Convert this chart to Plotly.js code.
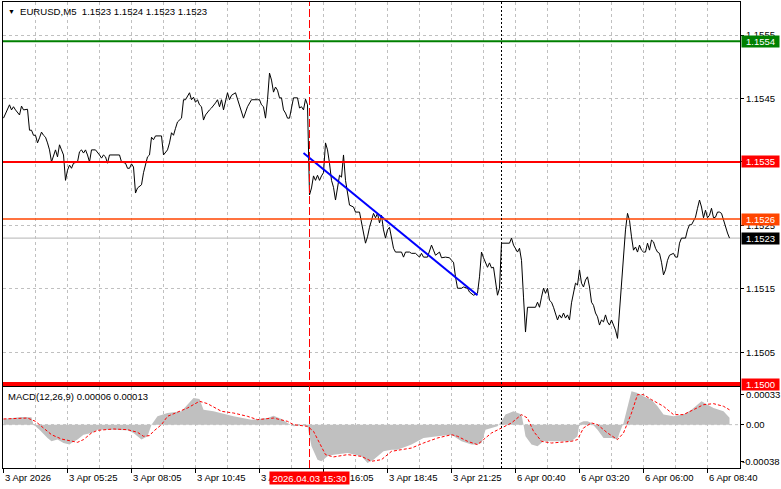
<!DOCTYPE html>
<html><head><meta charset="utf-8">
<script src="https://cdn.plot.ly/plotly-3.0.1.min.js"></script>
<style>html,body{margin:0;padding:0;background:#fff}#chart{width:781px;height:489px}</style>
</head><body><div id="chart"></div>
<script>
// ---- price series (EURUSD M5 close), bar index from left edge ----
const priceBars = [0,3,4,5,6,8,9,10,12,13,14,15,16,17,18,19,20,21,22,23,24,25,26,27,28,29,30,31,32,33,34,35,37,38,39,40,41,42,43,44,46,48,49,50,51,52,53,58,59,61,62,63,64,65,66,67,69,70,72,73,74,75,76,79,80,82,83,84,85,86,87,89,90,91,93,94,95,96,97,98,99,100,101,103,104,106,107,108,109,110,111,112,113,114,116,117,118,119,120,122,123,124,127,128,129,130,131,132,133,134,135,136,137,138,139,140,141,142,143,144,145,147,148,149,150,151,152,153,154,155,156,157,158,159,160,161,162,163,164,165,166,167,168,169,170,171,172,173,175,176,178,179,180,181,182,183,185,186,187,188,189,190,191,192,193,194,195,196,199,200,201,203,204,206,208,209,210,212,213,214,215,216,218,219,221,223,224,225,226,227,229,230,232,233,235,237,238,239,240,242,243,244,245,246,247,248,249,253,254,255,257,258,259,260,261,262,266,267,268,269,270,271,272,273,274,275,276,277,278,279,280,281,282,283,284,285,286,287,288,289,290,291,292,293,294,295,296,297,298,299,300,301,302,303,304,305,306,307,308,309,310,311,312,313,314,315,316,317,318,319,320,321,322,323,324,325,326,327,328,329,330,331,332,333,335,336,337,338,339,341,342,343,344,346,347,348,349,350,351,352,353,354,355,356,357,358,359,360,361,362,363];
const priceClose = [1.15419,1.15440,1.15432,1.15437,1.15432,1.15424,1.15438,1.15432,1.15433,1.15400,1.15400,1.15392,1.15392,1.15380,1.15388,1.15397,1.15392,1.15389,1.15380,1.15369,1.15350,1.15361,1.15369,1.15358,1.15377,1.15369,1.15361,1.15321,1.15337,1.15345,1.15340,1.15348,1.15350,1.15366,1.15369,1.15364,1.15369,1.15361,1.15350,1.15369,1.15369,1.15361,1.15356,1.15361,1.15358,1.15348,1.15361,1.15361,1.15350,1.15348,1.15340,1.15340,1.15347,1.15342,1.15301,1.15309,1.15314,1.15333,1.15358,1.15361,1.15389,1.15385,1.15391,1.15391,1.15361,1.15369,1.15380,1.15396,1.15392,1.15403,1.15413,1.15419,1.15448,1.15448,1.15459,1.15448,1.15452,1.15444,1.15448,1.15440,1.15437,1.15416,1.15424,1.15432,1.15435,1.15443,1.15448,1.15437,1.15448,1.15432,1.15448,1.15459,1.15448,1.15455,1.15459,1.15448,1.15437,1.15427,1.15419,1.15437,1.15443,1.15448,1.15448,1.15448,1.15440,1.15437,1.15419,1.15448,1.15490,1.15479,1.15460,1.15468,1.15463,1.15451,1.15451,1.15432,1.15427,1.15419,1.15419,1.15437,1.15451,1.15451,1.15435,1.15437,1.15432,1.15449,1.15440,1.15298,1.15309,1.15328,1.15321,1.15329,1.15321,1.15328,1.15333,1.15380,1.15369,1.15348,1.15321,1.15310,1.15290,1.15309,1.15329,1.15326,1.15361,1.15321,1.15303,1.15282,1.15279,1.15271,1.15271,1.15254,1.15243,1.15222,1.15232,1.15247,1.15269,1.15262,1.15269,1.15254,1.15266,1.15243,1.15230,1.15243,1.15247,1.15232,1.15214,1.15208,1.15208,1.15200,1.15208,1.15208,1.15206,1.15206,1.15200,1.15206,1.15200,1.15200,1.15208,1.15219,1.15211,1.15203,1.15208,1.15199,1.15200,1.15199,1.15195,1.15192,1.15169,1.15151,1.15151,1.15153,1.15151,1.15145,1.15140,1.15143,1.15169,1.15208,1.15199,1.15184,1.15191,1.15183,1.15184,1.15164,1.15140,1.15151,1.15222,1.15222,1.15230,1.15219,1.15208,1.15214,1.15195,1.15137,1.15082,1.15121,1.15121,1.15129,1.15121,1.15137,1.15151,1.15143,1.15151,1.15132,1.15129,1.15121,1.15109,1.15101,1.15109,1.15104,1.15112,1.15104,1.15109,1.15101,1.15128,1.15143,1.15159,1.15156,1.15180,1.15159,1.15153,1.15164,1.15169,1.15153,1.15129,1.15124,1.15112,1.15106,1.15093,1.15101,1.15098,1.15109,1.15098,1.15093,1.15101,1.15093,1.15085,1.15072,1.15113,1.15169,1.15195,1.15243,1.15269,1.15258,1.15232,1.15211,1.15216,1.15208,1.15219,1.15211,1.15208,1.15208,1.15222,1.15211,1.15227,1.15224,1.15214,1.15208,1.15206,1.15192,1.15172,1.15180,1.15195,1.15203,1.15206,1.15200,1.15200,1.15222,1.15230,1.15230,1.15243,1.15251,1.15251,1.15263,1.15277,1.15290,1.15279,1.15262,1.15274,1.15262,1.15266,1.15277,1.15262,1.15263,1.15271,1.15271,1.15269,1.15258,1.15247,1.15238,1.15230];

// ---- MACD(12,26,9) ----
const histBars = [0,9,14,15,16,18,22,24,27,30,33,34,37,40,44,47,54,62,65,69,72,74,77,82,89,92,95,98,100,105,115,124,132,135,139,142,145,149,152,154,157,159,162,165,172,179,182,185,190,194,197,204,210,217,224,229,234,237,239,241,244,247,249,251,255,259,260,261,264,267,270,277,284,287,288,290,292,294,297,300,304,307,308,310,312,314,317,320,324,327,330,335,340,344,349,352,355,360,363];
const histValues = [0.000050,0.000067,0.000064,0,-0.000015,-0.000044,-0.000117,-0.000146,-0.000131,-0.000161,-0.000175,-0.000161,-0.000131,-0.000088,-0.000073,-0.000044,-0.000044,-0.000050,-0.000073,-0.000131,-0.000102,0,0.000073,0.000102,0.000117,0.000175,0.000234,0.000225,0.000131,0.000117,0.000073,0.000044,0.000058,0.000079,0.000050,0.000015,-0.000015,-0.000005,-0.000015,-0.000190,-0.000307,-0.000321,-0.000278,-0.000263,-0.000248,-0.000278,-0.000336,-0.000307,-0.000234,-0.000219,-0.000219,-0.000175,-0.000117,-0.000102,-0.000088,-0.000146,-0.000175,-0.000175,-0.000161,-0.000044,-0.000029,-0.000015,0.000029,0.000088,0.000117,0.000088,0,-0.000102,-0.000175,-0.000190,-0.000146,-0.000146,-0.000146,-0.000102,0.000015,0.000029,0.000029,0.000015,-0.000044,-0.000117,-0.000117,-0.000131,-0.000073,0.000015,0.000161,0.000292,0.000278,0.000248,0.000219,0.000161,0.000088,0.000073,0.000088,0.000131,0.000205,0.000175,0.000146,0.000117,0.000060];
const signalBars = [0,12,16,19,24,29,34,37,40,44,47,55,62,67,70,73,75,79,82,92,98,102,109,115,122,127,135,142,145,152,155,159,161,165,172,179,184,189,194,199,204,210,217,224,227,232,237,240,244,249,254,259,262,265,269,274,284,287,290,294,297,302,307,310,314,317,320,324,330,335,340,345,350,355,360,363];
const signalValues = [0.000050,0.000058,0.000029,-0.000015,-0.000088,-0.000126,-0.000146,-0.000155,-0.000131,-0.000073,-0.000050,-0.000038,-0.000044,-0.000067,-0.000102,-0.000096,-0.000058,0,0.000073,0.000146,0.000205,0.000184,0.000117,0.000102,0.000073,0.000044,0.000058,0.000029,0,-0.000015,-0.000058,-0.000190,-0.000263,-0.000283,-0.000263,-0.000278,-0.000321,-0.000307,-0.000234,-0.000219,-0.000205,-0.000161,-0.000117,-0.000088,-0.000102,-0.000146,-0.000175,-0.000131,-0.000073,-0.000029,0.000015,0.000088,0.000058,-0.000058,-0.000146,-0.000161,-0.000146,-0.000131,-0.000029,0.000015,0,-0.000073,-0.000131,-0.000073,0.000102,0.000263,0.000263,0.000219,0.000161,0.000088,0.000088,0.000131,0.000175,0.000184,0.000161,0.000130];
const macdLast = ['0.00006','0.00013'];

// ---- drawn objects ----
const trendBars = [150, 237];
const trendPrices = [1.15364, 1.15140];
const levelPrices = [1.1554, 1.1535, 1.1500];
const levelLabels = ['1.1554', '1.1535', '1.1500'];
const alertPrice = 1.1526, alertLabel = '1.1526';
const bidPrice = 1.1523, bidLabel = '1.1523';
const eventBar = 153, eventLabel = '2026.04.03 15:30';
const weekSepBar = 249;
const ohlc = ['1.1523','1.1524','1.1523','1.1523'];
const symbolLabel = 'EURUSD,M5';

// ---- axes ticks ----
const xTickBars = [0,32,64,96,128,160,192,224,256,288,320,352];
const xTickLabels = ['3 Apr 2026','3 Apr 05:25','3 Apr 08:05','3 Apr 10:45','3 Apr 13:25','3 Apr 16:05','3 Apr 18:45','3 Apr 21:25','6 Apr 00:40','6 Apr 03:20','6 Apr 06:00','6 Apr 08:40'];
const priceTicks = [1.1505,1.1515,1.1525,1.1535,1.1545,1.1555];
const priceTickLabels = ['1.1505','1.1515','1.1525','1.1535','1.1545','1.1555'];
const macdTickVals = [0.000263, 0, -0.000321];
const macdTickLabels = ['0.00033','0.00','-0.00038'];

const FONT = '"Liberation Sans", Arial, sans-serif';
const GRID = '#c0c0c0';

const traces = [
  {x: histBars, y: histValues, type:'scatter', mode:'lines', fill:'tozeroy', fillcolor:'#c0c0c0', line:{width:0, color:'#c0c0c0'}, xaxis:'x2', yaxis:'y2', hoverinfo:'skip'},
  {x: signalBars, y: signalValues, type:'scatter', mode:'lines', line:{color:'#ff0000', width:1, dash:'3px,2px'}, xaxis:'x2', yaxis:'y2', hoverinfo:'skip'},
  {x: priceBars, y: priceClose, type:'scatter', mode:'lines', line:{color:'#000000', width:1}, xaxis:'x', yaxis:'y', hoverinfo:'skip'},
  {x: trendBars, y: trendPrices, type:'scatter', mode:'lines', line:{color:'#0000ff', width:2}, xaxis:'x', yaxis:'y', hoverinfo:'skip'}
];

const levelColors = ['#008000', '#ff0000', '#ff0000'];
const levelWidths = [2, 2, 4];
const shapes = [];
shapes.push({type:'line', xref:'x domain', x0:0, x1:1, yref:'y', y0:bidPrice, y1:bidPrice, line:{color:'#b4b4b4', width:1}, layer:'below'});
shapes.push({type:'line', xref:'x2 domain', x0:0, x1:1, yref:'y2', y0:0, y1:0, line:{color:GRID, width:1, dash:'3px,3px'}, layer:'below'});
levelPrices.forEach((p, i) => shapes.push({type:'line', xref:'x domain', x0:0, x1:1, yref:'y', y0:p, y1:p, line:{color:levelColors[i], width:levelWidths[i]}, layer:'above'}));
shapes.push({type:'line', xref:'x domain', x0:0, x1:1, yref:'y', y0:alertPrice, y1:alertPrice, line:{color:'#ff4500', width:1.4}, layer:'above'});
shapes.push({type:'line', xref:'x', x0:eventBar, x1:eventBar, yref:'paper', y0:0, y1:1, line:{color:'#ff0000', width:1, dash:'8px,3px'}, layer:'above'});
shapes.push({type:'line', xref:'x', x0:weekSepBar, x1:weekSepBar, yref:'paper', y0:0, y1:1, line:{color:'#000000', width:1, dash:'2px,2px'}, layer:'above'});

const ann = [];
ann.push({xref:'paper', x:0, xanchor:'left', xshift:3, yref:'paper', y:1, yanchor:'middle', yshift:-9, text:'\u25BC', showarrow:false, font:{size:7, color:'#000'}});
ann.push({xref:'paper', x:0, xanchor:'left', xshift:15, yref:'paper', y:1, yanchor:'middle', yshift:-9, text:symbolLabel + '\u00a0\u00a0' + ohlc.join(' '), showarrow:false, font:{size:9.6}});
ann.push({xref:'paper', x:0, xanchor:'left', xshift:3, yref:'y2 domain', y:1, yanchor:'middle', yshift:-9, text:'MACD(12,26,9) ' + macdLast.join(' '), showarrow:false});
function priceBox(y, text, bg) {
  ann.push({xref:'paper', x:1, xanchor:'left', xshift:1, yref:'y', y:y, yanchor:'middle', text:text, showarrow:false, bgcolor:bg, font:{color:'#ffffff'}, width:35, height:9, borderpad:1, align:'center'});
}
priceBox(levelPrices[0], levelLabels[0], '#008000');
priceBox(levelPrices[1], levelLabels[1], '#ff0000');
priceBox(alertPrice, alertLabel, '#ff4500');
priceBox(bidPrice, bidLabel, '#000000');
priceBox(levelPrices[2], levelLabels[2], '#ff0000');
// MACD scale labels (MT4 draws the min/max labels inside the window edges)
macdTickVals.forEach((v, i) => ann.push({xref:'paper', x:1, xanchor:'left', xshift:(v < 0 ? 0 : 4), yref:'y2', y:v, yanchor:'middle', text:macdTickLabels[i], showarrow:false}));
xTickBars.forEach((b, i) => ann.push({xref:'x2', x:b, xanchor:'left', xshift:-1, yref:'paper', y:0, yanchor:'top', yshift:-2, text:xTickLabels[i], showarrow:false}));
ann.push({xref:'x2', x:eventBar, xanchor:'center', yref:'paper', y:0, yanchor:'top', yshift:-3, text:eventLabel, showarrow:false, bgcolor:'#ff0000', font:{color:'#ffffff'}, width:77, height:10, borderpad:1});

const axLine = {showline:true, linecolor:'#000', linewidth:1, mirror:true, zeroline:false, fixedrange:true, automargin:false};
const XR = [-0.25, 368.25];
const layout = {
  width:781, height:489, margin:{l:3, r:41, t:2, b:21, pad:0},
  paper_bgcolor:'#ffffff', plot_bgcolor:'#ffffff', showlegend:false,
  font:{family:FONT, size:9.5, color:'#000'},
  xaxis:Object.assign({domain:[0,1], range:XR, anchor:'y', showticklabels:false, ticks:'', tickmode:'linear', tick0:0, dtick:16, showgrid:true, gridcolor:GRID, griddash:'3px,3px', gridwidth:1}, axLine),
  yaxis:Object.assign({domain:[0.176,1], range:[1.14997,1.15602], side:'right', anchor:'x', tickmode:'array', tickvals:priceTicks, ticktext:priceTickLabels, ticks:'outside', ticklen:3, tickcolor:'#000', showgrid:true, gridcolor:GRID, griddash:'3px,3px'}, axLine),
  xaxis2:Object.assign({domain:[0,1], range:XR, anchor:'y2', showticklabels:false, ticks:'outside', ticklen:4, tickcolor:'#000', tickmode:'linear', tick0:0, dtick:32, showgrid:true, gridcolor:GRID, griddash:'3px,3px',
    minor:{tickmode:'linear', tick0:16, dtick:32, showgrid:true, gridcolor:GRID, griddash:'3px,3px', ticks:''}}, axLine),
  yaxis2:Object.assign({domain:[0,0.1738], range:[-0.00038,0.00033], side:'right', anchor:'x2', tickmode:'array', tickvals:macdTickVals, ticktext:['','',''], ticks:'outside', ticklen:3, tickcolor:'#000', showgrid:false}, axLine),
  shapes:shapes, annotations:ann
};
Plotly.newPlot('chart', traces, layout, {staticPlot:true, displayModeBar:false});
</script></body></html>
